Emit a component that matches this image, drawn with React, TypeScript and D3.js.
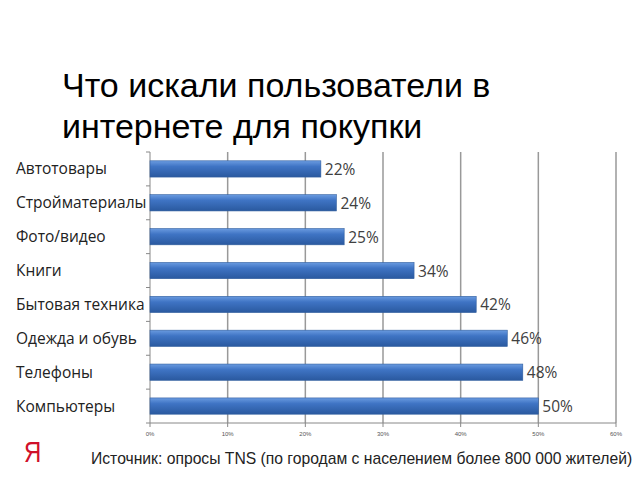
import React from "react";
import * as d3 from "d3";

const categories = ["Автотовары", "Стройматериалы", "Фото/видео", "Книги", "Бытовая техника", "Одежда и обувь", "Телефоны", "Компьютеры"];
const values = [22, 24, 25, 34, 42, 46, 48, 50];
const xTicks = [0, 10, 20, 30, 40, 50, 60];
const titleLines = ["Что искали пользователи в", "интернете для покупки"];
const sourceText = "Источник: опросы TNS (по городам с населением более 800 000 жителей)";

export default function App() {
  const W = 640, H = 480;
  const x = d3.scaleLinear().domain([0, 60]).range([150, 616]);
  const y = d3.scaleBand<string>().domain(categories).range([152, 423]).paddingInner(0.52).paddingOuter(0.26);
  const boundaries = d3.range(categories.length + 1).map((i) => 152 + i * ((423 - 152) / categories.length));
  return (
    <svg width={W} height={H} style={{ position: "absolute", left: 0, top: 0, background: "#fff" }}>
      <defs>
        <linearGradient id="barGrad" x1="0" y1="0" x2="0" y2="1">
          <stop offset="0" stopColor="#6a9be0" />
          <stop offset="0.35" stopColor="#3f74c4" />
          <stop offset="1" stopColor="#2a599f" />
        </linearGradient>
      </defs>
      {titleLines.map((t, i) => (
        <text key={i} x={62} y={97 + i * 41} fontFamily="Liberation Sans, Arial, sans-serif" fontSize={34} fill="#000">{t}</text>
      ))}
      {xTicks.slice(1).map((t) => (
        <line key={t} x1={x(t)} x2={x(t)} y1={152} y2={423} stroke="#999" strokeWidth={1.5} />
      ))}
      <line x1={x(0)} x2={x(60)} y1={423} y2={423} stroke="#888" strokeWidth={1} />
      {xTicks.map((t) => (
        <g key={t}>
          <line x1={x(t)} x2={x(t)} y1={423} y2={427} stroke="#888" />
          <text x={x(t)} y={436} fontSize={6} textAnchor="middle" fill="#555" fontFamily="Liberation Sans, Arial, sans-serif">{t}%</text>
        </g>
      ))}
      <line x1={x(0)} x2={x(0)} y1={152} y2={423} stroke="#888" strokeWidth={1} />
      {boundaries.map((b, i) => (
        <line key={i} x1={146} x2={150} y1={b} y2={b} stroke="#888" />
      ))}
      {categories.map((c, i) => (
        <g key={c}>
          <rect x={x(0)} y={y(c)!} width={x(values[i]) - x(0)} height={y.bandwidth()} fill="url(#barGrad)" stroke="#2f5d9e" strokeWidth={0.6} />
          <text x={16} y={y(c)! + y.bandwidth() / 2 + 5.5} fontSize={15.5} fill="#222" fontFamily="Open Sans, sans-serif">{c}</text>
          <text x={x(values[i]) + 4} y={y(c)! + y.bandwidth() / 2 + 6} fontSize={15.5} fill="#404040" fontFamily="Open Sans, sans-serif">{values[i]}%</text>
        </g>
      ))}
      <text x={0} y={0} fontSize={30} fill="#d0102a" fontFamily="Liberation Sans, Arial, sans-serif" transform="translate(24,462) scale(0.8,1)">Я</text>
      <text x={91} y={464} fontSize={15.7} fill="#222" fontFamily="Liberation Sans, Arial, sans-serif">{sourceText}</text>
    </svg>
  );
}
